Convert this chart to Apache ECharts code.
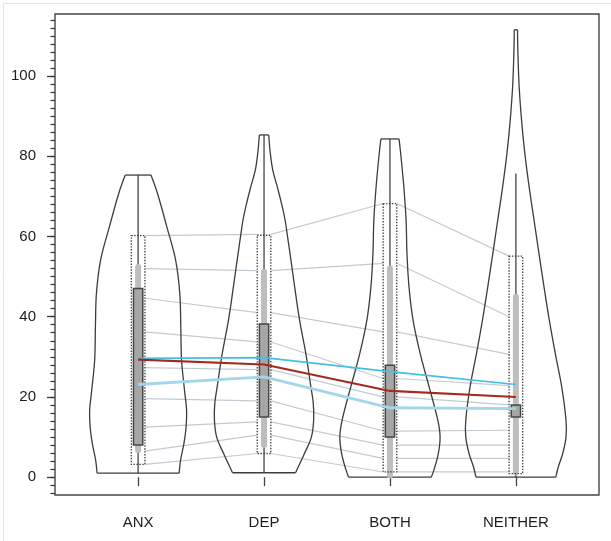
<!DOCTYPE html>
<html>
<head>
<meta charset="utf-8">
<script src="https://cdn.jsdelivr.net/npm/echarts@6/dist/echarts.min.js"></script>
<style>
html,body{margin:0;padding:0;background:#fff;}
#chart{width:611px;height:541px;}
</style>
</head>
<body>
<div id="chart"></div>
<script>
// ---------------- data ----------------
const categories = ['ANX', 'DEP', 'BOTH', 'NEITHER'];

// violin outlines: y levels (top -> bottom) and half-widths (x-axis units)
const violinANX_y = [75.3, 70.7, 62.4, 54.1, 45.8, 37.5, 29.2, 20.9, 16.7, 12.5, 8.4, 4.2, 1.0];
const violinANX_w = [0.102, 0.154, 0.228, 0.298, 0.331, 0.339, 0.345, 0.371, 0.385, 0.381, 0.364, 0.337, 0.326];
const violinDEP_y = [85.3, 80.7, 76.6, 72.4, 68.3, 64.1, 59.9, 55.8, 47.5, 39.2, 30.8, 22.5, 18.4, 14.2, 10.0, 5.9, 1.1];
const violinDEP_w = [0.037, 0.050, 0.069, 0.105, 0.138, 0.167, 0.187, 0.206, 0.243, 0.282, 0.332, 0.372, 0.391, 0.394, 0.376, 0.321, 0.250];
const violinBOTH_y = [84.3, 80.7, 72.4, 64.1, 55.8, 47.5, 39.2, 30.8, 22.5, 14.2, 10.0, 5.9, 1.7, 0];
const violinBOTH_w = [0.072, 0.085, 0.110, 0.128, 0.135, 0.151, 0.183, 0.240, 0.311, 0.380, 0.398, 0.384, 0.348, 0.328];
const violinNEITHER_y = [111.5, 105.7, 97.3, 89.0, 80.7, 72.4, 64.1, 55.8, 47.5, 39.2, 30.8, 22.5, 14.2, 10.0, 5.9, 2.6, 0];
const violinNEITHER_w = [0.013, 0.016, 0.026, 0.045, 0.071, 0.105, 0.144, 0.183, 0.223, 0.265, 0.313, 0.364, 0.398, 0.398, 0.372, 0.337, 0.317];

// per-group summaries
const whiskerLow  = [1.0, 1.1, 0, 0];
const whiskerHigh = [75.3, 85.3, 84.3, 75.7];
const bandLow     = [6.7, 8.0, 0.5, 1.3];
const bandHigh    = [52.4, 51.2, 52.0, 45.0];
const boxLow      = [8.0, 15.0, 10.0, 15.0];
const boxHigh     = [47.0, 38.2, 27.9, 18.0];
const rangeLow    = [3.2, 5.9, 1.3, 0.9];
const rangeHigh   = [60.2, 60.3, 68.2, 55.1];

// profile lines across groups
const redLine   = [29.3, 28.1, 21.5, 20.0];
const blueUpper = [29.6, 29.8, 26.3, 23.1];
const blueLower = [23.1, 25.0, 17.3, 17.1];

// light gray quantile connectors (ANX, DEP, BOTH, NEITHER)
const gray1 = [60.2, 60.5, 68.2, 55.1];
const gray2 = [52.0, 51.5, 53.3, 40.0];
const gray3 = [44.6, 41.0, 36.2, 30.6];
const gray4 = [36.2, 33.7, 24.6, 22.8];
const gray5 = [27.3, 26.8, 20.0, 18.0];
const gray6 = [19.6, 19.0, 11.5, 11.7];
const gray7 = [12.5, 13.8, 8.0, 8.0];
const gray8 = [6.5, 10.5, 4.7, 4.7];
const gray9 = [3.2, 5.9, 1.3, 1.3];

// axis ticks
const yLabelTicks = [0, 20, 40, 60, 80, 100];
const yMinorTicks = [];
for (let v = -4; v <= 114; v += 2) yMinorTicks.push(v);
const xTicks = [1, 2, 3, 4];

// ---------------- chart ----------------
const violinY = [violinANX_y, violinDEP_y, violinBOTH_y, violinNEITHER_y];
const violinW = [violinANX_w, violinDEP_w, violinBOTH_w, violinNEITHER_w];
const grayLines = [gray1, gray2, gray3, gray4, gray5, gray6, gray7, gray8, gray9];

const RECT_HALF = 0.054;
const BOX_HALF = 0.037;
const FONT = '"Liberation Sans", Arial, sans-serif';

const chart = echarts.init(document.getElementById('chart'), null, {renderer: 'canvas'});

function renderViolin(params, api) {
  const i = params.dataIndex;
  const ys = violinY[i], ws = violinW[i], cx = i + 1;
  const right = ys.map((y, k) => api.coord([cx + ws[k], y]));
  const left = ys.map((y, k) => api.coord([cx - ws[k], y]));
  const st = {stroke: '#3d3d3d', lineWidth: 1.3, fill: null};
  const n = ys.length - 1;
  return {
    type: 'group',
    children: [
      {type: 'polyline', shape: {points: right, smooth: 0.35}, style: st},
      {type: 'polyline', shape: {points: left, smooth: 0.35}, style: st},
      {type: 'line', shape: {x1: left[0][0], y1: left[0][1], x2: right[0][0], y2: right[0][1]}, style: st},
      {type: 'line', shape: {x1: left[n][0], y1: left[n][1], x2: right[n][0], y2: right[n][1]}, style: st}
    ]
  };
}

function renderSummary(params, api) {
  const i = params.dataIndex, cx = i + 1;
  const w0 = api.coord([cx, whiskerLow[i]]), w1 = api.coord([cx, whiskerHigh[i]]);
  const b0 = api.coord([cx, bandLow[i]]), b1 = api.coord([cx, bandHigh[i]]);
  const bx0 = api.coord([cx - BOX_HALF, boxHigh[i]]), bx1 = api.coord([cx + BOX_HALF, boxLow[i]]);
  const r0 = api.coord([cx - RECT_HALF, rangeHigh[i]]), r1 = api.coord([cx + RECT_HALF, rangeLow[i]]);
  return {
    type: 'group',
    children: [
      {type: 'line', shape: {x1: w0[0], y1: w0[1], x2: w1[0], y2: w1[1]}, style: {stroke: '#444444', lineWidth: 1.3}},
      {type: 'line', shape: {x1: b0[0], y1: b0[1], x2: b1[0], y2: b1[1]}, style: {stroke: '#bdbdbd', lineWidth: 6, lineCap: 'round'}},
      {type: 'rect', shape: {x: bx0[0], y: bx0[1], width: bx1[0] - bx0[0], height: bx1[1] - bx0[1]},
        style: {fill: '#a6a6a6', stroke: '#454545', lineWidth: 1.5}},
      {type: 'rect', shape: {x: r0[0], y: r0[1], width: r1[0] - r0[0], height: r1[1] - r0[1]},
        style: {fill: null, stroke: '#3a3a3a', lineWidth: 1.3, lineDash: [1.4, 1.5]}}
    ]
  };
}

function renderGray(params, api) {
  const vals = grayLines[params.dataIndex];
  const children = [];
  for (let g = 0; g < vals.length - 1; g++) {
    const p0 = api.coord([g + 1 + RECT_HALF, vals[g]]);
    const p1 = api.coord([g + 2 - RECT_HALF, vals[g + 1]]);
    children.push({type: 'line', shape: {x1: p0[0], y1: p0[1], x2: p1[0], y2: p1[1]},
      style: {stroke: '#c3cbd2', lineWidth: 1.2}});
  }
  return {type: 'group', children: children};
}

function profile(vals) { return vals.map((v, i) => [i + 1, v]); }

const option = {
  animation: false,
  backgroundColor: '#ffffff',
  grid: {
    left: 55, right: 12, top: 14, bottom: 46,
    show: true, borderColor: '#454545', borderWidth: 1.4, backgroundColor: 'transparent'
  },
  graphic: [{
    type: 'rect', left: 1, top: 1, shape: {width: 608, height: 538},
    style: {fill: null, stroke: '#dde7ee', lineWidth: 1}, silent: true, z: -1
  }],
  xAxis: {
    type: 'value', min: 0.34, max: 4.66,
    axisLine: {show: false},
    splitLine: {show: false},
    axisTick: {show: true, customValues: xTicks, length: 9, lineStyle: {color: '#444', width: 1.3}},
    axisLabel: {
      show: true, customValues: xTicks, margin: 20,
      fontFamily: FONT, fontSize: 15, color: '#1e1e1e',
      formatter: v => categories[Math.round(v) - 1] || ''
    }
  },
  yAxis: [{
    type: 'value', min: -4.44, max: 115.44, position: 'left',
    axisLine: {show: false},
    splitLine: {show: false},
    axisTick: {show: true, customValues: yLabelTicks, length: 8, lineStyle: {color: '#333', width: 1.3}},
    axisLabel: {show: true, customValues: yLabelTicks, margin: 19, fontFamily: FONT, fontSize: 15, color: '#1e1e1e'}
  }, {
    type: 'value', min: -4.44, max: 115.44, position: 'left', offset: 0,
    axisLine: {show: false},
    splitLine: {show: false},
    axisTick: {show: true, customValues: yMinorTicks, length: 4.5, lineStyle: {color: '#333', width: 1.2}},
    axisLabel: {show: false}
  }],
  series: [
    {
      type: 'custom', name: 'connectors', z: 1, silent: true, clip: false,
      renderItem: renderGray,
      data: grayLines.map(() => [1, 0])
    },
    {
      type: 'custom', name: 'violins', z: 2, silent: true, clip: false,
      renderItem: renderViolin,
      data: categories.map((c, i) => [i + 1, 0])
    },
    {
      type: 'custom', name: 'summary', z: 3, silent: true, clip: false,
      renderItem: renderSummary,
      data: categories.map((c, i) => [i + 1, 0])
    },
    {
      type: 'line', name: 'blueLower', z: 5, silent: true, symbol: 'none',
      data: profile(blueLower),
      lineStyle: {color: '#a3d6ea', width: 2.8}
    },
    {
      type: 'line', name: 'blueUpper', z: 6, silent: true, symbol: 'none',
      data: profile(blueUpper),
      lineStyle: {color: '#42bfe5', width: 1.7}
    },
    {
      type: 'line', name: 'mean', z: 7, silent: true, symbol: 'none',
      data: profile(redLine),
      lineStyle: {color: '#a52a1e', width: 2.1}
    }
  ]
};
chart.setOption(option);
</script>
</body>
</html>
